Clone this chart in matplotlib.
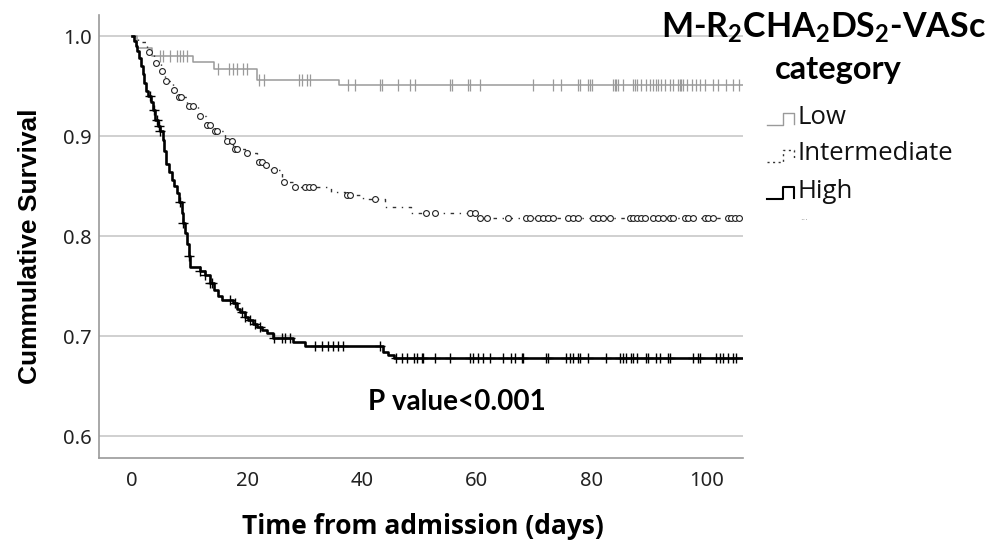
import numpy as np
import matplotlib
matplotlib.use("Agg")
import matplotlib.pyplot as plt

plt.rcParams["mathtext.fontset"] = "custom"
plt.rcParams["mathtext.rm"] = "Lato:bold"
plt.rcParams["mathtext.it"] = "Lato:bold"
plt.rcParams["mathtext.bf"] = "Lato:bold"

# ---- Kaplan-Meier steps (days, survival) ----
low_times = [0, 0.8, 3.5, 10.5, 14.2, 21.7, 36.0]
low_surv = [1.0, 0.988, 0.980, 0.974, 0.967, 0.956, 0.951]
low_censor = [4.9, 5.4, 6.6, 7.8, 8.3, 8.9, 9.6, 15.0, 16.9, 17.6, 18.3, 19.3, 20.0,
              22.0, 23.0, 29.0, 29.6, 30.4, 31.0, 37.6, 38.8, 43.1, 43.5, 46.3, 48.3,
              49.2, 55.3, 55.6, 58.5, 58.8, 60.5, 69.8, 73.3, 74.7, 77.6, 77.9, 79.4,
              79.7, 80.0, 83.7, 84.0, 84.3, 84.6, 85.4, 87.2, 87.5, 87.8, 88.6, 89.5,
              90.1, 90.7, 91.2, 91.5, 92.1, 92.7, 93.6, 94.1, 95.0, 95.3, 95.6, 95.9,
              96.5, 97.4, 98.2, 98.8, 99.7, 101.1, 102.0, 103.4, 104.6, 105.7]

mid_times = [0, 1.0, 2.5, 3.8, 5.0, 5.7, 7.0, 8.0, 9.6, 11.5, 12.9, 14.4, 16.2, 17.6,
             19.6, 21.7, 22.8, 24.2, 26.0, 28.0, 34.6, 37.0, 40.2, 44.0, 48.5, 60.2]
mid_surv = [1.0, 0.994, 0.984, 0.973, 0.965, 0.955, 0.946, 0.939, 0.930, 0.920, 0.911,
            0.905, 0.895, 0.887, 0.883, 0.874, 0.871, 0.866, 0.854, 0.849, 0.844, 0.841,
            0.837, 0.829, 0.823, 0.818]
mid_censor = [2.9, 4.2, 5.2, 5.9, 7.3, 8.2, 8.5, 9.9, 10.5, 11.8, 13.0, 13.6, 14.4, 14.8,
              16.5, 17.3, 17.8, 18.3, 20.0, 22.0, 22.6, 23.3, 24.6, 26.4, 28.3, 30.1,
              30.7, 31.5, 37.3, 37.9, 42.3, 51.2, 52.7, 58.8, 59.7, 60.5, 61.7, 65.4,
              68.6, 69.2, 70.7, 71.5, 72.4, 73.3, 75.9, 76.8, 77.6, 80.2, 81.1, 82.0,
              83.1, 86.6, 87.2, 87.8, 88.6, 89.2, 90.7, 91.5, 92.4, 93.6, 94.1, 96.2,
              96.8, 97.6, 99.7, 100.2, 101.1, 103.7, 104.3, 104.9, 105.7]

high_times = [0, 0.3, 0.6, 0.9, 1.2, 1.5, 1.8, 2.1, 2.4, 2.7, 3.2, 3.6, 4.0, 4.5, 4.9,
              5.3, 5.6, 5.9, 6.4, 6.9, 7.3, 7.8, 8.2, 8.6, 8.9, 9.2, 9.5, 9.8, 10.1,
              11.8, 12.6, 13.6, 14.3, 15.0, 15.6, 17.6, 18.3, 18.8, 19.6, 20.2, 21.0,
              21.7, 22.5, 23.4, 24.5, 28.0, 30.0, 43.7, 44.6, 45.5]
high_surv = [1.0, 0.995, 0.990, 0.985, 0.978, 0.970, 0.962, 0.953, 0.945, 0.940, 0.934,
             0.926, 0.916, 0.910, 0.905, 0.896, 0.885, 0.872, 0.864, 0.856, 0.850, 0.843,
             0.834, 0.823, 0.813, 0.803, 0.792, 0.780, 0.769, 0.765, 0.761, 0.753, 0.746,
             0.740, 0.736, 0.733, 0.727, 0.724, 0.719, 0.716, 0.712, 0.709, 0.706, 0.703,
             0.698, 0.694, 0.690, 0.684, 0.681, 0.678]
high_censor = [3.1, 3.7, 4.3, 4.6, 4.9, 8.3, 8.9, 9.8, 11.8, 12.7, 13.6, 13.9, 17.0, 17.9,
               19.1, 19.7, 20.5, 21.4, 22.3, 24.6, 26.1, 26.6, 27.5, 31.8, 33.0, 34.1,
               35.0, 35.9, 36.7, 43.1, 46.0, 46.9, 47.8, 49.0, 49.6, 50.4, 50.7, 52.7,
               55.3, 58.8, 59.4, 60.2, 61.1, 62.3, 64.6, 66.0, 66.6, 67.8, 68.1, 72.1,
               72.4, 75.6, 76.2, 76.8, 77.6, 77.9, 79.4, 82.5, 84.9, 85.4, 86.0, 86.9,
               87.2, 87.8, 89.5, 89.8, 91.2, 91.8, 93.3, 93.6, 97.6, 98.5, 98.8, 101.7,
               102.3, 102.8, 103.7, 104.6, 105.2]

group_names = ["Low", "Intermediate", "High"]
X_END = 106.3


def surv_at(times, surv, t):
    idx = np.searchsorted(times, t, side="right") - 1
    return np.asarray(surv)[idx]


fig = plt.figure(figsize=(9.92, 5.46), dpi=100)
ax = fig.add_axes([0.0998, 0.161, 0.649, 0.8115])

# low
ax.step(low_times + [X_END], low_surv + [low_surv[-1]], where="post",
        color="#9a9a9a", lw=1.1, zorder=3)
ax.plot(low_censor, surv_at(low_times, low_surv, low_censor), ls="none",
        marker="|", ms=8, mew=0.9, color="#9a9a9a", zorder=3)

# intermediate
ax.step(mid_times + [X_END], mid_surv + [mid_surv[-1]], where="post",
        color="#333333", lw=1.0, ls=(0, (2.5, 4, 1, 4)), zorder=3)
ax.plot(mid_censor, surv_at(mid_times, mid_surv, mid_censor), ls="none",
        marker="o", ms=4.2, mew=0.8, mfc="white", mec="#222222", zorder=4)

# high
ax.step(high_times + [X_END], high_surv + [high_surv[-1]], where="post",
        color="black", lw=1.9, zorder=5)
ax.plot(high_censor, surv_at(high_times, high_surv, high_censor), ls="none",
        marker="+", ms=7, mew=1.0, color="black", zorder=5)

ax.set_xlim(-5.8, X_END)
ax.set_ylim(0.578, 1.021)
ax.set_xticks([0, 20, 40, 60, 80, 100])
ax.set_yticks([0.6, 0.7, 0.8, 0.9, 1.0])
ax.set_yticklabels(["0.6", "0.7", "0.8", "0.9", "1.0"])
ax.tick_params(length=0, labelsize=14.5, pad=5)
ax.tick_params(axis="x", pad=9)
for lab in ax.get_xticklabels() + ax.get_yticklabels():
    lab.set_fontfamily("Noto Sans")
    lab.set_color("#222222")
ax.grid(axis="y", color="#c8c8c8", lw=1.2)
ax.set_axisbelow(True)
for s in ["top", "right"]:
    ax.spines[s].set_visible(False)
for s in ["left", "bottom"]:
    ax.spines[s].set_color("#9a9a9a")
    ax.spines[s].set_linewidth(1.2)

ax.text(56.5, 0.634, "P value<0.001", fontsize=20, fontweight="bold",
        family="Lato", ha="center", va="center")

fig.text(30 / 992, 1 - 246 / 546, "Cummulative Survival", rotation=90,
         fontsize=19, fontweight="bold", family="Liberation Sans",
         ha="center", va="center")
fig.text(423 / 992, 1 - 527 / 546, "Time from admission (days)", fontsize=19,
         fontweight="bold", family="Open Sans", ha="center", va="center")

# legend, drawn by hand in pixel space
lg = fig.add_axes([0, 0, 1, 1])
lg.set_xlim(0, 992)
lg.set_ylim(546, 0)
lg.axis("off")
lg.text(823, 28, r"M-R$_2$CHA$_2$DS$_2$-VASc", fontsize=24.5, fontweight="bold",
        family="Lato", ha="center", va="center")
lg.text(838, 70, "category", fontsize=23.5, fontweight="bold", family="Lato",
        ha="center", va="center")
icon_styles = [dict(color="#9a9a9a", lw=1.0, ls="-"),
               dict(color="#333333", lw=1.0, ls=(0, (1.5, 2.5))),
               dict(color="black", lw=1.5, ls="-")]
for i, (name, st) in enumerate(zip(group_names, icon_styles)):
    y0 = 125 + i * 37
    lg.plot([767, 783, 783, 794, 794], [y0, y0, y0 - 12, y0 - 12, y0 - 1], **st)
    lg.text(798, y0 - 8, name, fontsize=18.5, family="Open Sans", color="#111111",
            ha="left", va="center")
lg.text(800, 217, "...", fontsize=6, color="#888888", ha="left", va="center")

plt.savefig("out.png", dpi=100)
